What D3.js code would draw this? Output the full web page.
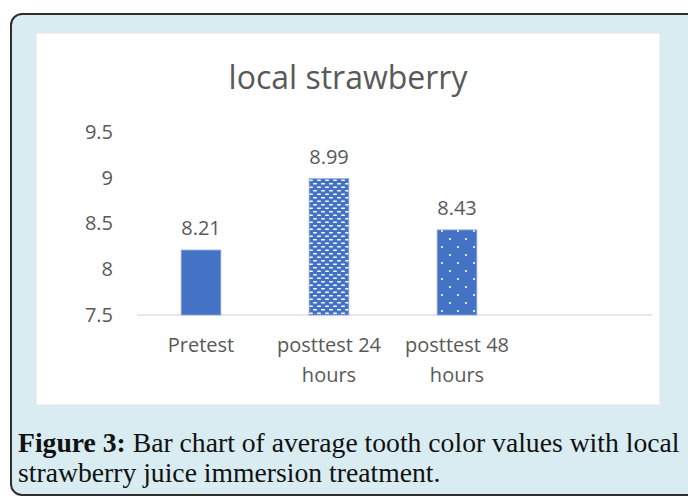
<!DOCTYPE html>
<html>
<head>
<meta charset="utf-8">
<script src="https://cdn.jsdelivr.net/npm/d3@7"></script>
<style>
  html, body { margin: 0; padding: 0; background: #fff; }
  svg { display: block; }
</style>
</head>
<body>
<div id="chart"></div>
<script>
const categories = ["Pretest", "posttest 24 hours", "posttest 48 hours"];
const values = [8.21, 8.99, 8.43];
const fills = ["solid", "weave", "dots"];
const yTicks = [7.5, 8, 8.5, 9, 9.5];
const chartTitle = "local strawberry";
const captionBold = "Figure 3:";
const captionLine1 = " Bar chart of average tooth color values with local";
const captionLine2 = "strawberry juice immersion treatment.";

const W = 688, H = 498;
const blue = "#4472c4";
const grey = "#595959";
const chartFont = "'Open Sans', sans-serif";
const captionFont = "'Liberation Serif', serif";

const svg = d3.select("#chart").append("svg")
  .attr("width", W)
  .attr("height", H)
  .attr("viewBox", `0 0 ${W} ${H}`);

const defs = svg.append("defs");

// weave-like pattern for posttest 24
const weave = defs.append("pattern")
  .attr("id", "weave")
  .attr("patternUnits", "userSpaceOnUse")
  .attr("width", 8)
  .attr("height", 7);
weave.append("rect").attr("width", 8).attr("height", 7).attr("fill", blue);
weave.append("rect").attr("x", 1).attr("y", 1).attr("width", 4).attr("height", 1.6).attr("rx", 0.8).attr("fill", "#fff");
weave.append("rect").attr("x", 5).attr("y", 4.5).attr("width", 4).attr("height", 1.6).attr("rx", 0.8).attr("fill", "#fff");
weave.append("rect").attr("x", -3).attr("y", 4.5).attr("width", 4).attr("height", 1.6).attr("rx", 0.8).attr("fill", "#fff");

// sparse dots for posttest 48
const dots = defs.append("pattern")
  .attr("id", "dots")
  .attr("patternUnits", "userSpaceOnUse")
  .attr("width", 16)
  .attr("height", 16)
  .attr("x", 438)
  .attr("y", 227);
dots.append("rect").attr("width", 16).attr("height", 16).attr("fill", blue);
dots.append("circle").attr("cx", 4).attr("cy", 4).attr("r", 1.1).attr("fill", "#fff");
dots.append("circle").attr("cx", 12).attr("cy", 12).attr("r", 1.1).attr("fill", "#fff");

// outer panel
svg.append("rect")
  .attr("x", 11)
  .attr("y", 14)
  .attr("width", 700)
  .attr("height", 481)
  .attr("rx", 11)
  .attr("fill", "#d8ecf1")
  .attr("stroke", "#2f2f2f")
  .attr("stroke-width", 2);

// white chart area
svg.append("rect")
  .attr("x", 36)
  .attr("y", 33)
  .attr("width", 624)
  .attr("height", 372)
  .attr("fill", "#fff")
  .attr("stroke", "#e6e6e6")
  .attr("stroke-width", 1);

svg.append("text")
  .attr("x", 348)
  .attr("y", 89)
  .attr("text-anchor", "middle")
  .attr("font-family", chartFont)
  .attr("font-size", 32)
  .attr("fill", grey)
  .text(chartTitle);

const plotLeft = 137, plotRight = 652;
const x = d3.scaleBand()
  .domain(categories)
  .range([plotLeft, plotLeft + 3 * 128])
  .paddingInner(0.69)
  .paddingOuter(0.345);

const y = d3.scaleLinear().domain([7.5, 9.5]).range([315, 132]);

const yAxis = svg.append("g")
  .attr("transform", `translate(${plotLeft - 24},0)`)
  .call(d3.axisLeft(y).tickValues(yTicks).tickSize(0).tickPadding(0).tickFormat(d3.format("")));
yAxis.select(".domain").remove();
yAxis.selectAll("text")
  .attr("font-family", chartFont)
  .attr("font-size", 20)
  .attr("fill", grey);

// category axis line
svg.append("line")
  .attr("x1", plotLeft)
  .attr("x2", plotRight)
  .attr("y1", y(7.5))
  .attr("y2", y(7.5))
  .attr("stroke", "#d0d0d0")
  .attr("stroke-width", 1.2);

svg.selectAll(".bar")
  .data(categories)
  .enter()
  .append("rect")
  .attr("class", "bar")
  .attr("x", (d) => x(d))
  .attr("width", x.bandwidth())
  .attr("y", (d, i) => y(values[i]))
  .attr("height", (d, i) => y(7.5) - y(values[i]))
  .attr("fill", (d, i) => fills[i] === "solid" ? blue : `url(#${fills[i]})`)
  .attr("stroke", "#8eaadb")
  .attr("stroke-width", 0.8);

svg.selectAll(".val")
  .data(categories)
  .enter()
  .append("text")
  .attr("class", "val")
  .attr("x", (d) => x(d) + x.bandwidth() / 2)
  .attr("y", (d, i) => y(values[i]) - 15)
  .attr("text-anchor", "middle")
  .attr("font-family", chartFont)
  .attr("font-size", 20)
  .attr("fill", grey)
  .text((d, i) => values[i]);

// category labels, wrapped like Excel
svg.selectAll(".cat")
  .data(categories)
  .enter()
  .append("text")
  .attr("class", "cat")
  .attr("text-anchor", "middle")
  .attr("font-family", chartFont)
  .attr("font-size", 20)
  .attr("fill", grey)
  .each(function (d) {
    const parts = d.endsWith(" hours") ? [d.replace(" hours", ""), "hours"] : [d];
    const cx = x(d) + x.bandwidth() / 2;
    d3.select(this).selectAll("tspan")
      .data(parts)
      .enter()
      .append("tspan")
      .attr("x", cx)
      .attr("y", (p, i) => 352 + i * 30)
      .text((p) => p);
  });

// caption
const cap1 = svg.append("text")
  .attr("x", 18)
  .attr("y", 452)
  .attr("font-family", captionFont)
  .attr("font-size", 24)
  .attr("fill", "#111");
cap1.append("tspan").attr("font-weight", "bold").text(captionBold);
cap1.append("tspan").text(captionLine1);

const cap2 = svg.append("text")
  .attr("x", 18)
  .attr("y", 482)
  .attr("font-family", captionFont)
  .attr("font-size", 24)
  .attr("fill", "#111")
  .text(captionLine2);

// fit caption width to the reference line length
const w1 = cap1.node().getComputedTextLength();
const fs = 24 * 662 / w1;
cap1.attr("font-size", fs);
cap2.attr("font-size", fs);
</script>
</body>
</html>
